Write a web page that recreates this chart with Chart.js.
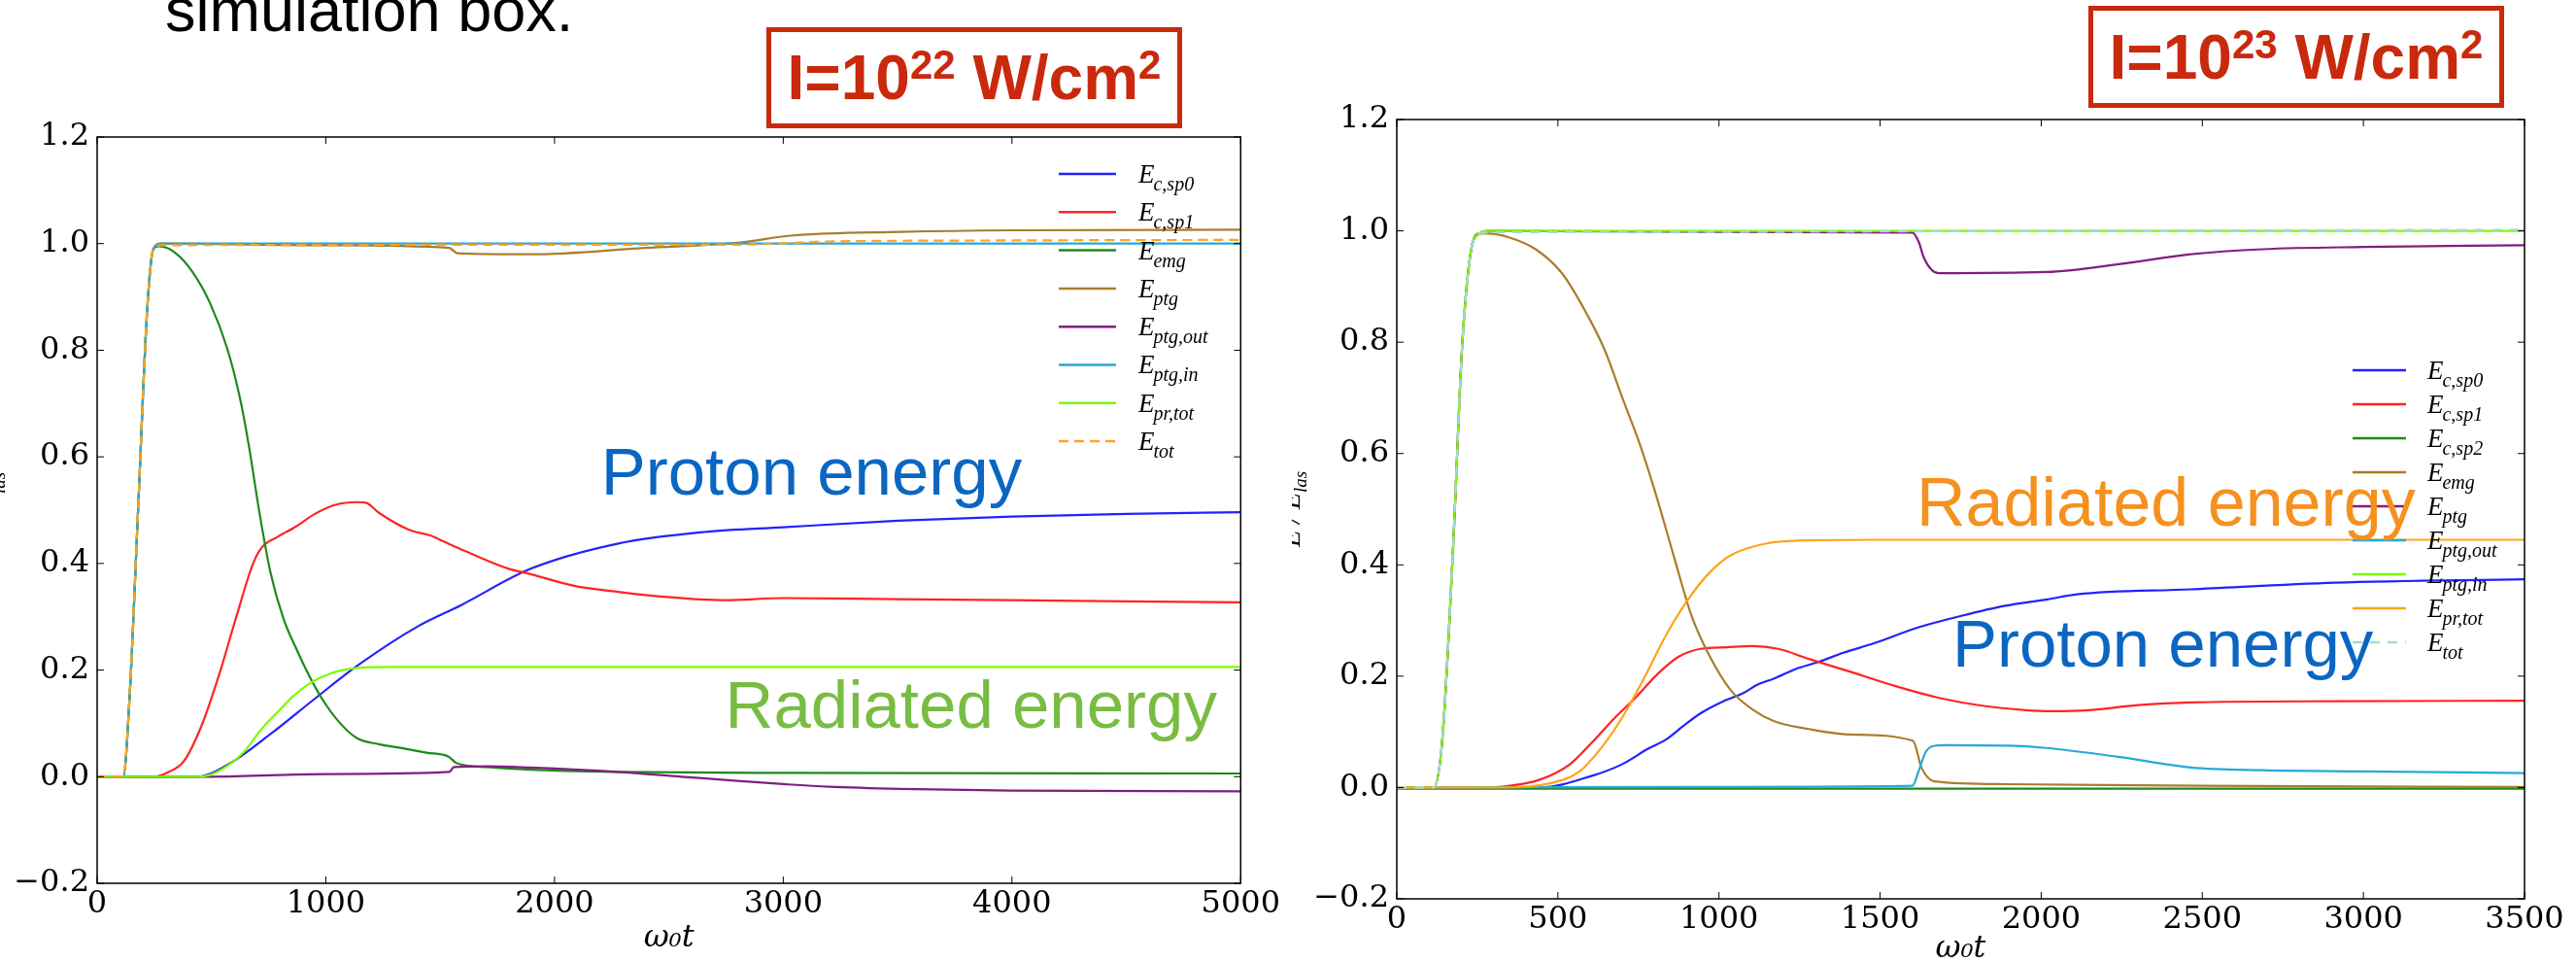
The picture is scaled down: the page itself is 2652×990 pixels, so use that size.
<!DOCTYPE html>
<html>
<head>
<meta charset="utf-8">
<script src="https://cdn.jsdelivr.net/npm/chart.js@4/dist/chart.umd.min.js"></script>
<style>
    body { margin: 0; width: 2652px; height: 990px; overflow: hidden; position: relative; background: #fff; }
    canvas { position: absolute; top: 0; }
    .note { position: absolute; font: 63px "Liberation Sans", Arial, sans-serif; line-height: 63px; color: #000; white-space: nowrap; }
    .box { position: absolute; box-sizing: border-box; border: 5px solid #c9290c; background: #fff;
           display: flex; align-items: center; justify-content: center;
           font: bold 64px "Liberation Sans", Arial, sans-serif; color: #c9290c; white-space: nowrap; }
    .box span { font-size: 42px; vertical-align: 21px; line-height: 0; }
</style>
</head>
<body>
<canvas id="leftChart" width="1320" height="990" style="left:0"></canvas>
<canvas id="rightChart" width="1322" height="1005" style="left:1330px"></canvas>
<div class="note" style="left:170px; top:-21px">simulation box.</div>
<div class="box" style="left:789px; top:28px; width:428px; height:104px"><div>I=10<span>22</span> W/cm<span>2</span></div></div>
<div class="box" style="left:2150px; top:6px; width:428px; height:105px"><div>I=10<span>23</span> W/cm<span>2</span></div></div>
<script>
// ---- 左图数据 I=1e22 : [ω0t, E/Elas] ----
const leftRise = [[0, 0], [114, 0], [142, 0.15], [180, 0.51], [218, 0.87], [246, 0.99]];
const leftSp0 = [[0, 0], [440, 0], [569, 0.022], [758, 0.08], [948, 0.145], [1137, 0.208], [1402, 0.282], [1592, 0.322],
    [1895, 0.39], [2274, 0.437], [2653, 0.459], [3000, 0.468], [3500, 0.48], [4000, 0.488], [4500, 0.493], [5000, 0.496]];
const leftSp1 = [[0, 0], [250, 0], [303, 0.007], [379, 0.029], [455, 0.094], [531, 0.188], [606, 0.296], [682, 0.40],
    [720, 0.43], [790, 0.45], [872, 0.47], [948, 0.492], [1042, 0.51], [1137, 0.515], [1175, 0.514], [1232, 0.495],
    [1364, 0.463], [1459, 0.452], [1516, 0.441], [1611, 0.423], [1800, 0.39], [1895, 0.38], [2085, 0.358],
    [2274, 0.347], [2464, 0.338], [2748, 0.331], [3000, 0.335], [3500, 0.333], [4000, 0.331], [5000, 0.327]];
const leftEmg = leftRise.concat([[270, 0.995], [341, 0.983], [417, 0.947], [493, 0.889], [569, 0.803], [625, 0.709],
    [663, 0.622], [711, 0.492], [758, 0.383], [815, 0.296], [872, 0.239], [929, 0.188], [985, 0.145], [1061, 0.101],
    [1137, 0.072], [1232, 0.061], [1327, 0.054], [1440, 0.045], [1535, 0.038], [1573, 0.025], [1706, 0.018],
    [1895, 0.013], [2274, 0.009], [3000, 0.007], [5000, 0.006]]);
const leftPtg = leftRise.concat([[275, 1.0], [1000, 0.997], [1540, 0.992], [1575, 0.982], [1900, 0.98], [2395, 0.992],
    [2810, 1.002], [3033, 1.015], [3512, 1.022], [4000, 1.025], [5000, 1.026]]);
const leftPtgOut = [[0, 0], [500, 0], [1000, 0.005], [1540, 0.009], [1560, 0.018], [1706, 0.0195], [1895, 0.017],
    [2274, 0.009], [2554, 0.0], [2800, -0.008], [3000, -0.014], [3200, -0.019], [3512, -0.023], [4000, -0.026], [5000, -0.0275]];
const leftPtgIn = leftRise.concat([[280, 1.0], [5000, 1.0]]);
const leftPrTot = [[0, 0], [450, 0], [530, 0.01], [639, 0.045], [720, 0.09], [798, 0.125], [860, 0.152], [926, 0.174],
    [1000, 0.19], [1054, 0.198], [1137, 0.204], [1300, 0.206], [5000, 0.206]];
const leftTot = leftRise.concat([[280, 0.997], [2800, 0.998], [3200, 1.004], [4000, 1.006], [5000, 1.007]]);

// ---- 右图数据 I=1e23 ----
const rightRise = [[0, 0], [114, 0], [141, 0.084], [175, 0.434], [202, 0.785], [229, 0.96], [256, 0.995]];
const rightSp0 = [[0, 0], [444, 0], [606, 0.021], [700, 0.042], [781, 0.07], [835, 0.086], [888, 0.11], [942, 0.133],
    [1010, 0.154], [1077, 0.17], [1117, 0.184], [1171, 0.196], [1238, 0.213], [1306, 0.225], [1386, 0.242],
    [1481, 0.259], [1615, 0.287], [1750, 0.308], [1884, 0.326], [2019, 0.338], [2111, 0.347], [2464, 0.356],
    [2912, 0.368], [3500, 0.374]];
const rightSp1 = [[0, 0], [250, 0], [336, 0.002], [444, 0.014], [538, 0.042], [606, 0.081], [673, 0.123], [740, 0.161],
    [808, 0.203], [875, 0.235], [942, 0.249], [1023, 0.252], [1104, 0.254], [1184, 0.249], [1279, 0.231],
    [1413, 0.207], [1548, 0.182], [1683, 0.161], [1817, 0.147], [1952, 0.139], [2030, 0.137], [2150, 0.139],
    [2300, 0.148], [2464, 0.153], [2912, 0.155], [3500, 0.156]];
const rightSp2 = [[0, -0.002], [3500, -0.002]];
const rightEmg = rightRise.concat([[283, 0.995], [350, 0.988], [431, 0.967], [511, 0.925], [579, 0.862], [646, 0.785],
    [700, 0.70], [754, 0.617], [808, 0.519], [861, 0.413], [915, 0.308], [969, 0.238], [1036, 0.175], [1104, 0.14],
    [1171, 0.119], [1279, 0.105], [1413, 0.095], [1602, 0.084], [1629, 0.035], [1669, 0.011], [1884, 0.006],
    [2500, 0.003], [3500, 0.001]]);
const rightPtg = rightRise.concat([[283, 1.0], [1600, 0.997], [1620, 0.98], [1635, 0.953], [1660, 0.93], [1682, 0.924],
    [2016, 0.926], [2240, 0.94], [2464, 0.958], [2688, 0.967], [3000, 0.971], [3500, 0.974]]);
const rightPtgOut = [[0, 0], [1000, 0.001], [1600, 0.003], [1620, 0.03], [1640, 0.062], [1662, 0.074], [1700, 0.076],
    [1900, 0.075], [2016, 0.071], [2240, 0.055], [2464, 0.036], [2688, 0.031], [3000, 0.029], [3500, 0.026]];
const rightPtgIn = rightRise.concat([[283, 1.0], [3500, 1.0]]);
const rightPrTot = [[0, 0], [336, 0], [471, 0.007], [565, 0.028], [633, 0.07], [700, 0.126], [767, 0.196], [835, 0.273],
    [902, 0.336], [969, 0.385], [1036, 0.417], [1144, 0.438], [1279, 0.444], [1500, 0.445], [3500, 0.445]];
const rightTot = rightRise.concat([[283, 0.997], [1000, 0.998], [2000, 1.0], [3500, 1.002]]);

// 颜色
const BLUE = '#2222ff', RED = '#ff2424', GREEN = '#1c8a1c', BROWN = '#aa7d2c', PURPLE = '#7f1f80',
      CYAN = '#29a8d8', LIME = '#7cfc00', ORANGE = '#ffa31a', PALE = '#a6d9d9';

const leftSeries = [
    { sub: 'c,sp0', color: BLUE, pts: leftSp0 },
    { sub: 'c,sp1', color: RED, pts: leftSp1 },
    { sub: 'emg', color: GREEN, pts: leftEmg },
    { sub: 'ptg', color: BROWN, pts: leftPtg },
    { sub: 'ptg,out', color: PURPLE, pts: leftPtgOut },
    { sub: 'ptg,in', color: CYAN, pts: leftPtgIn },
    { sub: 'pr,tot', color: LIME, pts: leftPrTot },
    { sub: 'tot', color: ORANGE, pts: leftTot, dash: [10, 6] }
];
const rightSeries = [
    { sub: 'c,sp0', color: BLUE, pts: rightSp0 },
    { sub: 'c,sp1', color: RED, pts: rightSp1 },
    { sub: 'c,sp2', color: GREEN, pts: rightSp2 },
    { sub: 'emg', color: BROWN, pts: rightEmg },
    { sub: 'ptg', color: PURPLE, pts: rightPtg },
    { sub: 'ptg,out', color: CYAN, pts: rightPtgOut },
    { sub: 'ptg,in', color: LIME, pts: rightPtgIn },
    { sub: 'pr,tot', color: ORANGE, pts: rightPrTot },
    { sub: 'tot', color: PALE, pts: rightTot, dash: [10, 8] }
];

// 每张图的装饰设置 (按 canvas id)
const decoConfig = {
    leftChart: {
        legend: { x0: 1090, x1: 1149, tx: 1172, y: 179, dy: 39.3, size: 27, sub: 20 },
        notes: [
            { text: 'Proton energy', t: 2203, e: 0.530, size: 69, color: '#0a66c2' },
            { text: 'Radiated energy', t: 2746, e: 0.091, size: 69, color: '#78bd43' }
        ],
        yTitleX: -2
    },
    rightChart: {
        legend: { x0: 1092, x1: 1147, tx: 1169, y: 381, dy: 35, size: 27, sub: 20 },
        notes: [
            { text: 'Radiated energy', t: 1613, e: 0.471, size: 70, color: '#f5911e' },
            { text: 'Proton energy', t: 1724, e: 0.218, size: 69, color: '#0a66c2' }
        ],
        yTitleX: 8
    }
};

/**
 * 边框、内向刻度、图例、标注文字、纵轴标题
 */
const decor = {
    id: 'decor',
    afterDatasetsDraw(chart) {
        const o = decoConfig[chart.canvas.id];
        const { ctx, chartArea: a, scales: { x, y } } = chart;
        const line = (x0, y0, x1, y1) => { ctx.beginPath(); ctx.moveTo(x0, y0); ctx.lineTo(x1, y1); ctx.stroke(); };
        ctx.save();

        // 边框
        ctx.strokeStyle = '#000';
        ctx.lineWidth = 1.5;
        ctx.strokeRect(a.left, a.top, a.right - a.left, a.bottom - a.top);

        // 刻度线 (朝内, 四边)
        ctx.lineWidth = 1;
        x.ticks.forEach(t => {
            const px = x.getPixelForValue(t.value);
            line(px, a.bottom, px, a.bottom - 7);
            line(px, a.top, px, a.top + 7);
        });
        y.ticks.forEach(t => {
            const py = y.getPixelForValue(t.value);
            line(a.left, py, a.left + 7, py);
            line(a.right, py, a.right - 7, py);
        });

        // 图例
        ctx.textAlign = 'left';
        ctx.textBaseline = 'alphabetic';
        const lg = o.legend;
        chart.data.datasets.forEach((ds, i) => {
            const ly = lg.y + i * lg.dy;
            ctx.strokeStyle = ds.borderColor;
            ctx.lineWidth = 2.5;
            ctx.setLineDash(ds.borderDash || []);
            line(lg.x0, ly, lg.x1, ly);
            ctx.setLineDash([]);
            ctx.fillStyle = '#000';
            ctx.font = 'italic ' + lg.size + 'px "Liberation Serif", serif';
            const base = ly + lg.size * 0.33;
            ctx.fillText('E', lg.tx, base);
            const w = ctx.measureText('E').width;
            ctx.font = 'italic ' + lg.sub + 'px "Liberation Serif", serif';
            ctx.fillText(ds.sub, lg.tx + w - 1, base + 8);
        });

        // 标注文字
        o.notes.forEach(n => {
            ctx.font = n.size + 'px "Liberation Sans", Arial, sans-serif';
            ctx.fillStyle = n.color;
            ctx.fillText(n.text, x.getPixelForValue(n.t), y.getPixelForValue(n.e));
        });

        // 纵轴标题 E / E_las (大部分被裁掉)
        ctx.setTransform(1, 0, 0, 1, 0, 0);
        ctx.translate(o.yTitleX, (a.top + a.bottom) / 2);
        ctx.rotate(-Math.PI / 2);
        ctx.fillStyle = '#000';
        ctx.font = 'italic 28px "Liberation Serif", serif';
        const w1 = ctx.measureText('E / E').width;
        ctx.font = 'italic 19px "Liberation Serif", serif';
        const w2 = ctx.measureText('las').width;
        const sx = -(w1 + w2) / 2;
        ctx.font = 'italic 28px "Liberation Serif", serif';
        ctx.fillText('E / E', sx, 0);
        ctx.font = 'italic 19px "Liberation Serif", serif';
        ctx.fillText('las', sx + w1, 7);

        ctx.restore();
    }
};

const tickFont = { family: '"DejaVu Serif", serif', size: 32 };
const fmtY = v => {
    const r = Math.round(v * 10) / 10;
    return (r < 0 ? '\u2212' : '') + Math.abs(r).toFixed(1);
};

/**
 * 创建一张图
 */
function makeChart(id, series, xMax, xStep, box) {
    const n = series.length;
    const datasets = series.map((s, i) => ({
        label: 'E_' + s.sub,
        sub: s.sub,
        data: s.pts.map(p => ({ x: p[0], y: p[1] })),
        borderColor: s.color,
        borderWidth: 2.2,
        borderDash: s.dash,
        pointRadius: 0,
        fill: false,
        cubicInterpolationMode: 'monotone',
        order: n - i   // 后面的系列画在上面
    }));

    return new Chart(document.getElementById(id), {
        type: 'line',
        data: { datasets: datasets },
        options: {
            responsive: false,
            animation: false,
            devicePixelRatio: 1,
            layout: { padding: { left: 0, top: box.top, right: box.right, bottom: 0 } },
            plugins: { legend: { display: false }, tooltip: { enabled: false } },
            scales: {
                x: {
                    type: 'linear', min: 0, max: xMax,
                    grid: { display: false, drawTicks: false },
                    border: { display: false },
                    ticks: { stepSize: xStep, font: tickFont, color: '#000', padding: 2, maxRotation: 0, autoSkip: false,
                             callback: v => String(v) },
                    title: { display: true, text: 'ω₀t', color: '#000',
                             font: { family: '"DejaVu Serif", serif', size: 32, style: 'italic' },
                             padding: { top: 0, bottom: box.titlePad } },
                    afterFit: s => { s.height = box.xHeight; }
                },
                y: {
                    min: -0.2, max: 1.2,
                    grid: { display: false, drawTicks: false },
                    border: { display: false },
                    ticks: { stepSize: 0.2, font: tickFont, color: '#000', padding: 8, callback: fmtY },
                    afterFit: s => { s.width = box.yWidth; }
                }
            }
        },
        plugins: [decor]
    });
}

makeChart('leftChart', leftSeries, 5000, 1000, { top: 141, right: 42, xHeight: 81, yWidth: 100, titlePad: 5 });
makeChart('rightChart', rightSeries, 3500, 500, { top: 123, right: 53, xHeight: 80, yWidth: 108, titlePad: 9 });
</script>
</body>
</html>
